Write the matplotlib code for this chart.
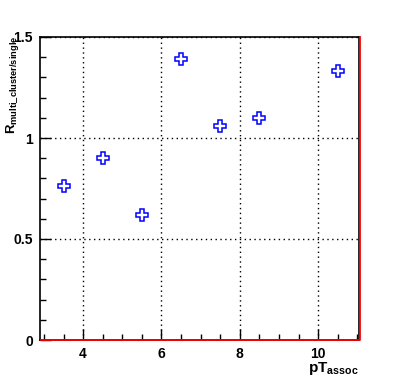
import matplotlib.pyplot as plt
import matplotlib.transforms as mtransforms
from matplotlib.ticker import MultipleLocator

pt_assoc = [3.5, 4.5, 5.5, 6.5, 7.5, 8.5, 10.5]
ratio = [0.76, 0.90, 0.62, 1.39, 1.06, 1.10, 1.33]

plt.rcParams["font.family"] = ["Liberation Sans", "DejaVu Sans"]
plt.rcParams["font.weight"] = "bold"

fig = plt.figure(figsize=(4.01, 3.77), dpi=100)
ax = fig.add_axes([40 / 401, 37 / 377, 319 / 401, 303 / 377])

x0, x1 = 2.9, 11.04
ax.set_xlim(x0, x1)
ax.set_ylim(0, 1.5)

# empty histogram line along zero and right edge, shifted one pixel
shift = mtransforms.ScaledTranslation(1 / 100, 0, fig.dpi_scale_trans)
ax.plot([x0, x1, x1], [0, 0, 1.5], color="red", lw=1.3, clip_on=False,
        zorder=3, transform=ax.transData + shift)

ax.plot(pt_assoc, ratio, linestyle="none", marker="P", markersize=8,
        markerfacecolor="white", markeredgecolor="blue", markeredgewidth=1.1, zorder=4)

ax.xaxis.set_major_locator(MultipleLocator(2))
ax.xaxis.set_minor_locator(MultipleLocator(0.5))
ax.yaxis.set_major_locator(MultipleLocator(0.5))
ax.yaxis.set_minor_locator(MultipleLocator(0.1))
ax.tick_params(which="both", direction="in", top=False, right=False, width=1)
ax.tick_params(which="major", length=8, labelsize=10, pad=5)
ax.tick_params(which="minor", length=4.5)
ax.xaxis.set_major_formatter(plt.FuncFormatter(lambda v, p: f"{v:g}"))
ax.yaxis.set_major_formatter(plt.FuncFormatter(lambda v, p: f"{v:g}"))

ax.grid(True, which="major", color="black", linestyle=(0, (1, 2.5)), lw=1)
for s in ax.spines.values():
    s.set_linewidth(1.2)

ax.set_xlabel(r"pT$_{\mathregular{assoc}}$", fontsize=11, fontweight="bold")
ax.xaxis.set_label_coords(1.0, -0.065)
ax.xaxis.label.set_horizontalalignment("right")
ax.set_ylabel(r"R$_{\mathregular{multi\_cluster/single}}$", fontsize=9.5, fontweight="bold")
ax.yaxis.set_label_coords(-0.058, 1.005)
ax.yaxis.label.set_horizontalalignment("right")

fig.savefig("out.png", dpi=100)
